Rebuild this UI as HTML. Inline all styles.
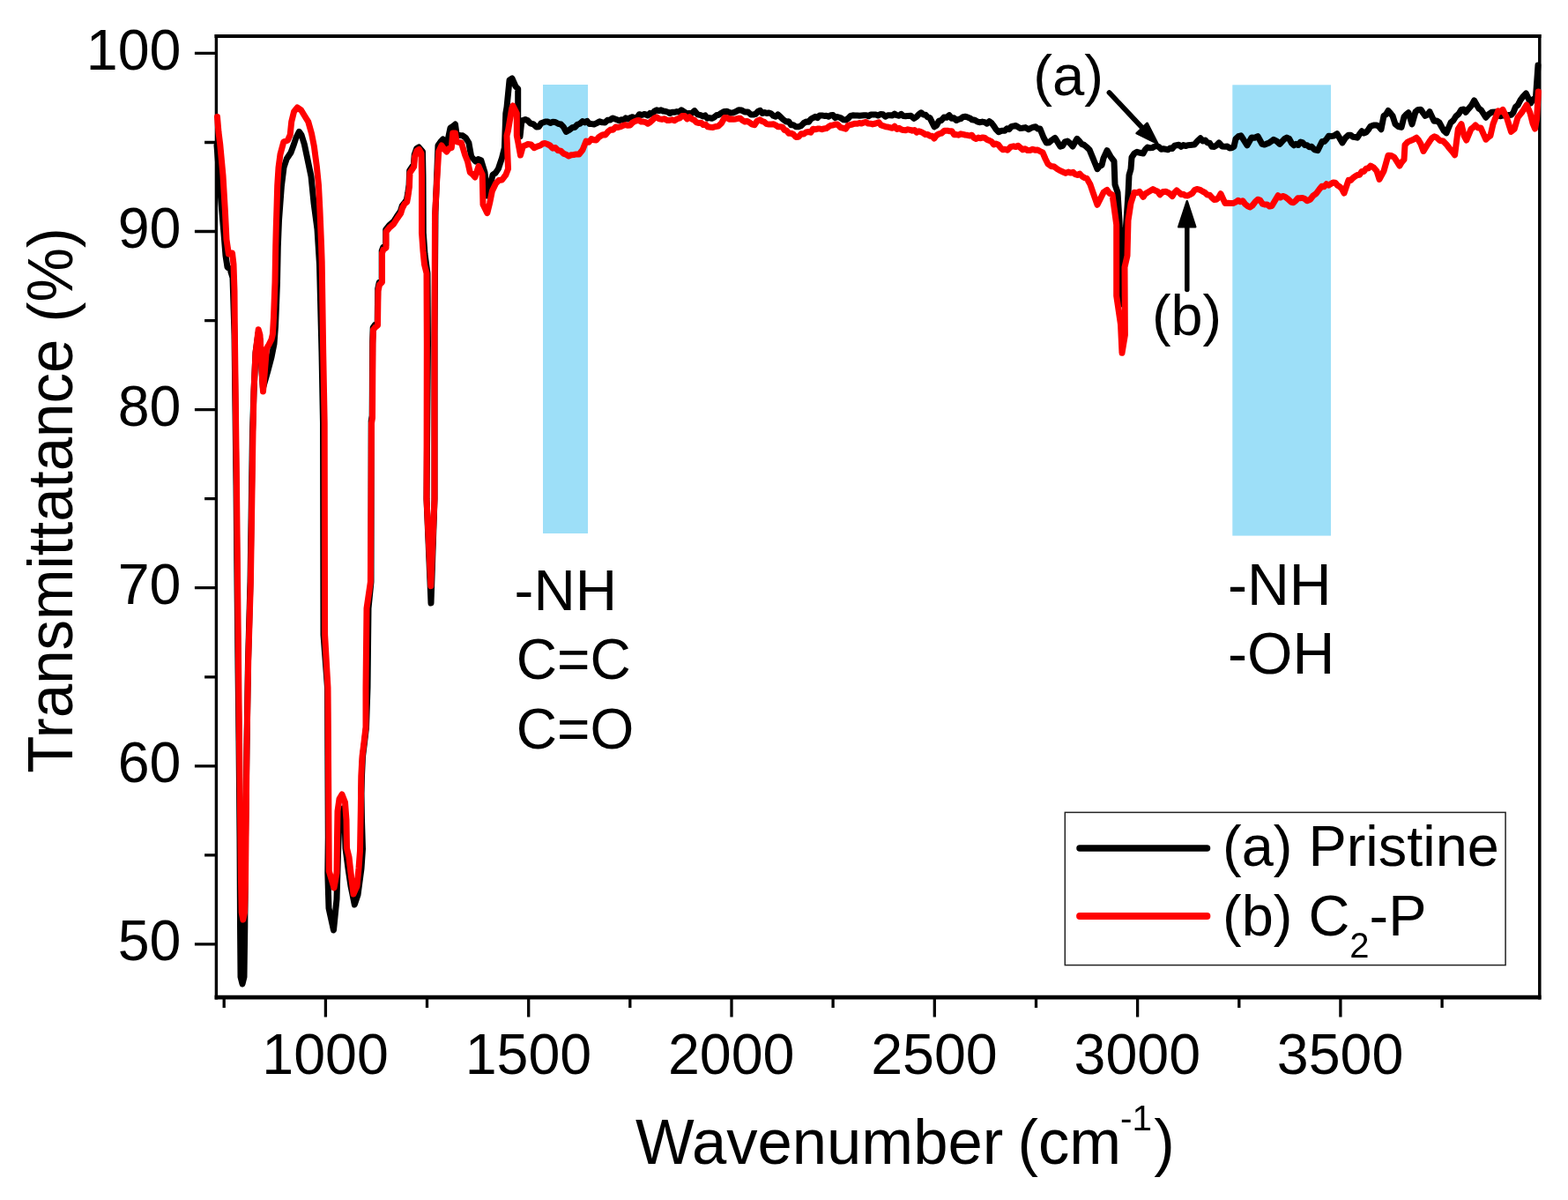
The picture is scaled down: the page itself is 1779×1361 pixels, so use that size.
<!DOCTYPE html>
<html><head><meta charset="utf-8"><style>
html,body{margin:0;padding:0;background:#fff;overflow:hidden}
svg{display:block}
text{font-family:"Liberation Sans", Arial, Helvetica, sans-serif;fill:#000}
</style></head><body>
<svg width="1779" height="1361" viewBox="0 0 1779 1361">
<rect width="1779" height="1361" fill="#fff"/>
<rect x="616" y="96" width="51" height="509" fill="#9DDFF8"/>
<rect x="1398.3" y="96.3" width="111.7" height="511.3" fill="#9DDFF8"/>
<path d="M243.5,41 H1748.5" stroke="#000" stroke-width="3.8"/>
<path d="M243.6,1131.1 H1748.5" stroke="#000" stroke-width="4.6"/>
<path d="M245.4,39.1 V1133.4" stroke="#000" stroke-width="3.4"/>
<path d="M1746.8,39.1 V1133.4" stroke="#000" stroke-width="3.5"/>
<path d="M220.9,1070.9H245.4 M220.9,868.8H245.4 M220.9,666.7H245.4 M220.9,464.6H245.4 M220.9,262.5H245.4 M220.9,60.4H245.4 M232.1,969.9H245.4 M232.1,767.8H245.4 M232.1,565.6H245.4 M232.1,363.6H245.4 M232.1,161.5H245.4 M369.4,1131.0V1153.5 M599.7,1131.0V1153.5 M830.0,1131.0V1153.5 M1060.3,1131.0V1153.5 M1290.6,1131.0V1153.5 M1520.9,1131.0V1153.5 M254.2,1131.0V1143.0 M484.5,1131.0V1143.0 M714.8,1131.0V1143.0 M945.1,1131.0V1143.0 M1175.5,1131.0V1143.0 M1405.8,1131.0V1143.0 M1636.1,1131.0V1143.0" stroke="#000" stroke-width="3.3" fill="none"/>
<polyline points="246.0,165.0 248.0,190.0 251.0,230.0 254.0,265.0 256.0,290.0 258.0,303.0 261.0,305.0 264.0,315.0 266.0,380.0 268.0,550.0 269.0,660.0 270.0,755.0 271.0,840.0 272.0,950.0 272.5,1050.0 273.0,1108.0 275.0,1116.0 277.0,1108.0 277.8,1050.0 278.5,950.0 280.0,845.0 281.5,750.0 284.0,660.0 286.5,490.0 288.0,444.0 290.0,400.0 293.0,378.0 295.0,385.0 297.0,420.0 298.4,440.0 303.8,421.0 308.0,405.0 311.0,390.0 312.5,370.0 313.5,346.0 314.5,320.0 315.3,280.0 316.5,250.0 319.4,211.0 322.0,190.0 325.3,180.0 330.0,173.0 333.5,163.5 336.0,156.0 339.4,149.4 342.0,153.0 345.3,163.5 348.8,180.0 353.0,200.0 356.0,230.0 360.0,260.0 362.5,300.0 365.0,400.0 366.5,480.0 367.0,720.0 371.5,780.0 372.3,950.0 371.8,990.0 373.0,1030.0 378.5,1055.0 382.0,1020.0 383.8,960.0 385.0,930.0 388.5,917.0 391.0,930.0 392.0,962.0 395.0,985.0 398.0,1005.0 402.3,1026.0 406.0,1015.0 410.0,985.0 411.5,963.0 410.5,930.0 410.0,900.0 410.5,880.0 411.5,858.0 413.5,842.0 415.5,825.0 417.0,780.0 418.0,690.0 421.0,660.0 421.2,477.5 422.2,471.5 422.7,387.5 423.2,371.5 425.7,368.1 428.2,366.5 428.7,327.5 430.2,320.5 433.2,317.5 433.2,284.5 434.7,280.5 437.7,278.5 437.7,260.5 441.7,255.5 446.4,251.5 450.2,245.5 454.4,239.5 456.2,233.5 458.8,230.2 461.4,226.5 462.7,219.5 464.1,209.5 464.7,193.5 469.4,186.5 470.2,175.5 472.7,168.5 475.2,166.9 479.5,172.0 480.0,200.0 480.3,264.0 482.0,288.0 485.0,310.0 485.5,390.0 484.0,566.0 489.0,684.0 493.0,566.0 493.0,380.0 494.0,240.0 495.0,216.0 497.0,165.0 499.8,161.0 502.6,158.0 507.0,164.0 511.0,145.0 513.8,143.4 516.5,141.0 518.0,152.0 521.5,153.4 524.9,153.8 528.4,156.3 531.9,162.0 534.7,177.5 539.5,183.0 542.6,180.6 545.8,181.7 550.0,195.6 553.0,222.0 555.0,215.0 559.0,198.4 562.2,196.1 565.4,191.4 569.6,178.9 572.4,167.7 573.8,128.6 575.0,121.6 578.0,91.0 581.0,89.0 585.0,98.0 587.7,100.7 587.7,132.8 590.0,155.0 591.9,137.0 596.0,135.6 598.9,136.8 601.7,139.8 605.2,140.9 608.6,144.0 611.3,143.7 614.0,139.8 618.8,138.0 621.6,138.0 624.4,139.5 627.2,138.3 630.0,138.5 633.2,140.3 636.4,141.0 639.3,143.9 642.3,149.4 645.8,147.5 649.3,144.7 652.2,144.2 655.1,141.2 658.1,140.2 661.0,137.6 663.6,138.9 666.2,137.4 668.8,140.6 671.4,140.6 674.0,141.0 677.1,139.6 680.3,137.8 683.4,138.8 686.4,138.9 689.3,136.3 692.2,136.0 695.2,134.0 700.0,135.8 702.5,136.8 705.0,135.8 707.5,136.2 710.0,133.9 712.5,135.0 715.0,133.5 717.6,132.7 720.2,133.9 722.8,133.1 725.4,129.7 728.0,130.5 731.5,129.4 735.0,131.0 737.5,128.4 740.0,129.6 742.5,126.1 745.0,124.8 747.5,125.6 750.0,124.8 752.5,126.0 755.0,126.3 757.5,127.0 760.0,128.5 762.6,127.2 765.2,127.3 767.8,126.6 770.4,127.0 773.0,124.8 776.0,126.7 779.0,128.8 782.0,128.5 785.0,128.3 788.0,125.6 791.5,129.9 795.0,130.7 797.5,132.0 800.0,130.9 802.5,134.2 805.0,133.6 807.6,134.3 810.2,133.0 812.8,130.8 815.4,130.3 818.0,128.5 821.5,126.4 825.0,126.3 828.5,128.2 832.0,127.8 835.0,126.6 838.0,124.8 841.5,125.1 845.0,127.0 848.5,126.9 852.0,130.0 854.7,130.0 857.3,129.3 860.0,126.3 862.5,125.4 865.0,128.5 867.5,127.6 870.0,128.5 872.5,127.9 875.0,129.0 877.5,131.3 880.0,132.3 882.5,129.9 885.0,132.2 888.5,135.5 892.0,138.0 894.8,137.8 897.5,141.7 900.2,141.7 903.0,143.8 906.0,143.7 909.0,142.6 912.0,139.5 915.0,138.0 917.5,138.3 920.0,135.0 922.5,133.7 925.0,132.3 927.5,133.6 930.0,130.9 932.5,130.9 935.0,131.4 937.5,131.3 940.0,132.2 942.5,130.7 945.0,130.5 947.5,133.6 950.0,132.5 953.5,133.5 957.0,135.8 959.7,136.0 962.3,134.3 965.0,131.4 967.6,130.8 970.1,130.9 972.7,131.0 975.2,131.3 977.8,131.0 980.3,130.7 982.9,130.7 985.4,131.7 988.0,130.0 990.8,130.1 993.5,129.9 996.2,131.1 999.0,129.4 1001.8,129.7 1004.5,132.2 1007.2,130.7 1010.0,130.7 1012.5,131.0 1015.0,129.1 1017.5,130.7 1020.0,131.3 1022.5,129.4 1025.0,131.6 1027.5,131.8 1030.0,131.4 1033.5,131.3 1037.0,134.3 1039.7,132.6 1042.3,129.8 1045.0,127.8 1047.5,129.9 1050.0,130.2 1052.5,132.9 1055.0,133.6 1060.0,143.8 1062.7,142.2 1065.3,137.2 1068.0,136.5 1071.0,133.0 1074.0,133.3 1077.0,130.7 1079.7,134.3 1082.3,133.7 1085.0,136.5 1087.5,135.3 1090.0,134.7 1092.5,132.6 1095.0,132.2 1097.7,132.9 1100.3,133.9 1103.0,135.8 1106.0,136.3 1109.0,138.1 1112.0,138.7 1114.6,138.1 1117.2,138.6 1119.8,140.2 1122.4,137.6 1125.0,139.5 1127.7,143.1 1130.3,147.1 1133.0,149.7 1136.5,148.3 1140.0,148.2 1142.5,145.9 1145.0,146.7 1147.5,143.4 1150.0,143.1 1152.5,142.5 1155.0,144.0 1157.5,145.5 1160.0,145.3 1163.5,144.6 1167.0,146.8 1169.7,145.2 1172.3,144.2 1175.0,143.8 1177.5,146.1 1180.0,146.0 1184.0,156.0 1187.3,162.0 1190.0,161.7 1193.5,158.8 1197.0,156.4 1203.0,166.1 1205.7,165.3 1208.3,160.8 1211.0,160.0 1214.0,162.5 1217.0,166.1 1222.0,157.3 1224.7,160.2 1227.3,163.4 1230.0,164.4 1233.0,166.9 1236.0,169.7 1240.0,179.4 1245.0,191.7 1247.5,188.5 1250.0,187.3 1252.0,179.4 1256.0,170.6 1260.0,177.6 1264.0,182.9 1265.0,209.3 1268.0,218.2 1270.0,250.0 1272.0,300.0 1272.0,345.0 1275.0,290.0 1278.0,250.0 1280.0,220.0 1281.0,198.8 1283.0,191.7 1284.0,178.5 1287.0,174.0 1290.0,172.3 1293.5,173.3 1297.0,174.0 1299.5,169.4 1302.0,167.0 1304.7,167.8 1307.3,167.6 1310.0,166.1 1312.5,165.6 1315.0,166.7 1317.5,169.2 1320.0,168.8 1322.5,169.2 1325.0,169.8 1327.5,168.0 1330.0,168.5 1332.5,165.3 1335.0,164.8 1337.5,164.3 1340.0,166.3 1342.5,164.6 1345.0,165.6 1347.5,164.7 1350.0,164.6 1352.5,164.2 1355.0,164.1 1358.5,160.1 1362.0,156.8 1364.7,160.0 1367.3,159.0 1370.0,161.9 1372.5,162.3 1375.0,166.3 1377.7,166.4 1380.3,164.7 1383.0,161.9 1386.5,165.9 1390.0,166.3 1392.5,166.1 1395.0,167.9 1397.5,167.8 1400.0,166.3 1402.0,157.5 1405.0,154.7 1408.0,153.9 1415.0,164.8 1420.0,156.1 1423.5,156.2 1427.0,154.6 1432.0,163.4 1434.7,164.1 1437.3,163.0 1440.0,161.9 1442.5,160.2 1445.0,158.3 1448.5,160.1 1452.0,163.4 1454.7,160.4 1457.3,157.6 1460.0,156.1 1462.7,157.4 1465.3,162.2 1468.0,164.8 1470.5,163.3 1473.0,164.5 1475.5,161.0 1478.0,161.9 1480.5,164.5 1483.0,164.8 1485.5,166.7 1488.0,166.3 1491.5,169.9 1495.0,170.7 1500.0,160.5 1502.5,160.5 1505.0,157.8 1507.5,154.3 1510.0,154.6 1513.5,154.0 1517.0,151.7 1523.0,161.9 1526.5,156.4 1530.0,153.2 1532.5,153.2 1535.0,155.2 1537.5,155.5 1540.0,156.1 1542.5,152.1 1545.0,148.8 1547.5,151.0 1550.0,150.0 1552.5,147.0 1555.0,143.2 1558.5,142.0 1562.0,142.0 1564.5,143.5 1567.0,146.7 1570.0,131.4 1572.5,129.8 1575.0,125.5 1577.5,128.4 1580.0,131.4 1583.0,140.8 1586.5,143.6 1590.0,144.4 1593.0,132.6 1595.5,129.7 1598.0,127.8 1602.0,140.8 1606.0,126.7 1609.0,124.4 1612.0,124.3 1614.5,128.0 1617.0,131.4 1619.5,130.2 1622.0,126.7 1627.0,137.3 1630.0,137.0 1633.0,139.0 1635.7,144.0 1638.3,148.4 1641.0,150.8 1646.0,139.0 1649.0,136.5 1652.0,131.7 1655.0,129.2 1658.0,124.4 1660.5,124.1 1663.0,127.3 1666.2,123.3 1669.4,119.7 1672.6,114.0 1677.8,123.0 1680.5,124.8 1683.1,129.0 1685.8,133.2 1689.2,129.4 1692.5,127.3 1697.0,127.0 1699.5,129.4 1702.0,131.7 1705.0,131.1 1708.0,131.0 1711.2,130.6 1714.5,130.3 1717.0,127.6 1719.5,121.2 1722.0,119.3 1725.1,113.3 1728.3,109.1 1731.4,106.0 1736.6,117.0 1739.5,112.7 1742.4,111.2 1745.0,74.0" fill="none" stroke="#000" stroke-width="7" stroke-linejoin="round" stroke-linecap="round"/>
<polyline points="246.5,132.6 248.0,150.0 249.7,163.4 253.0,199.0 255.4,239.4 257.0,271.7 259.4,288.0 263.5,287.0 265.0,300.0 266.0,330.0 266.4,380.0 268.5,550.0 269.6,660.0 270.6,755.0 271.5,840.0 272.5,920.0 273.5,1000.0 274.2,1035.0 275.8,1043.0 277.5,1035.0 278.5,1000.0 279.3,920.0 280.0,845.0 281.7,750.0 284.4,660.0 287.0,490.0 288.0,444.0 290.0,400.0 293.2,373.7 295.0,380.0 297.0,420.0 298.5,444.0 300.5,420.0 302.5,395.0 305.0,391.0 308.0,385.0 309.4,379.0 310.5,360.0 311.0,346.0 312.0,320.0 312.7,280.0 313.3,257.0 314.0,235.0 314.7,210.6 316.0,190.0 318.0,175.0 321.8,161.0 326.5,159.0 329.2,152.9 330.7,138.2 333.6,126.4 337.3,122.0 341.7,125.0 346.1,132.3 349.8,138.2 353.5,151.4 356.4,166.1 359.3,188.1 361.5,210.2 363.0,239.6 364.5,276.3 365.2,296.9 366.7,400.0 368.2,480.0 368.6,720.0 372.0,780.0 373.3,988.0 379.0,1007.0 382.0,990.0 382.5,950.0 383.0,920.0 385.0,906.0 388.0,901.0 391.5,910.0 393.0,930.0 393.5,962.0 396.0,972.0 398.0,990.0 401.0,1014.0 405.0,1005.0 407.0,985.0 408.5,965.0 409.3,920.0 409.8,880.0 411.0,858.0 413.0,842.0 415.0,825.0 415.0,780.0 416.0,690.0 420.4,660.0 421.5,480.0 422.5,474.0 423.0,390.0 423.5,374.0 426.0,370.9 428.5,369.0 429.0,330.0 430.5,323.0 433.5,320.0 433.5,287.0 435.0,283.0 438.0,281.0 438.0,263.0 442.0,258.0 446.7,254.0 450.5,248.0 454.7,242.0 456.5,236.0 459.1,231.2 461.7,229.0 463.0,222.0 464.4,212.0 465.0,196.0 469.7,189.0 470.5,178.0 473.0,171.0 475.5,169.4 478.0,174.0 478.5,200.0 478.5,264.0 480.0,285.0 481.5,300.0 484.0,310.0 484.3,390.0 484.0,566.0 488.8,664.7 493.0,566.0 493.0,380.0 493.5,244.5 495.0,216.6 497.7,172.0 501.0,165.0 503.9,169.0 506.8,172.0 509.5,168.3 512.3,167.7 513.7,151.0 516.5,151.0 518.0,160.7 520.8,161.5 523.5,162.0 527.7,176.0 530.5,183.0 533.3,195.6 536.1,197.8 538.9,201.0 543.0,188.6 547.2,198.0 548.0,232.0 552.8,241.7 555.6,230.5 558.4,216.6 562.6,208.0 566.1,204.4 569.6,204.0 573.8,198.4 576.5,191.4 575.0,153.8 576.5,148.0 580.7,123.0 582.0,120.0 586.3,128.6 586.3,153.8 587.7,160.7 590.5,176.0 593.3,166.0 596.1,164.8 598.9,163.5 602.4,163.9 605.9,167.7 609.5,166.1 613.0,165.0 615.7,163.0 618.3,162.5 621.0,163.5 624.0,165.0 627.0,168.2 630.0,167.4 633.0,170.5 636.1,171.1 639.2,174.1 642.3,175.2 645.2,176.9 648.1,175.7 651.0,175.5 654.0,174.9 657.0,175.0 661.0,170.0 665.0,160.0 668.0,161.3 671.0,157.6 674.0,158.8 676.6,158.9 679.2,155.7 681.8,154.0 684.4,152.7 687.0,152.9 689.9,149.3 692.8,147.0 695.6,147.2 698.5,144.0 701.3,144.5 704.2,143.7 707.0,142.3 709.7,141.7 712.3,142.3 715.0,142.0 717.5,139.1 720.0,137.7 722.5,136.8 725.0,136.5 727.5,138.1 730.0,138.1 732.5,138.6 735.0,140.2 737.5,138.7 740.0,136.4 742.5,134.0 745.0,132.9 748.0,134.9 751.0,135.4 754.0,134.7 757.0,136.5 759.8,136.4 762.5,135.8 765.2,136.7 768.0,135.0 771.0,134.0 774.0,131.4 776.8,131.5 779.5,134.9 782.2,132.7 785.0,135.0 787.7,136.2 790.3,138.9 793.0,139.5 795.5,139.3 798.0,141.6 800.5,141.1 803.0,143.8 806.0,144.2 809.0,144.4 812.0,143.5 815.0,143.1 818.5,139.7 822.0,133.6 824.7,133.4 827.3,135.2 830.0,135.0 832.5,135.2 835.0,134.9 837.5,134.3 840.0,134.3 842.5,136.6 845.0,138.1 847.5,137.5 850.0,138.7 853.0,140.8 856.0,141.7 859.0,137.2 862.0,135.8 864.6,137.5 867.2,138.4 869.8,140.6 872.4,141.0 875.0,140.9 877.5,140.8 880.0,141.9 882.5,143.7 885.0,143.8 887.5,143.9 890.0,147.4 892.5,148.2 895.0,151.2 897.7,151.3 900.3,152.5 903.0,155.5 906.0,155.3 909.0,151.8 912.0,151.9 914.6,150.0 917.2,149.5 919.8,150.2 922.4,146.3 925.0,146.8 927.5,146.1 930.0,146.0 932.5,146.7 935.0,145.9 937.5,145.6 940.0,143.8 942.5,142.3 945.0,142.0 947.5,141.1 950.0,140.9 953.5,144.5 957.0,145.3 959.6,146.1 962.1,142.4 964.7,141.6 967.3,141.0 969.9,140.2 972.4,140.3 975.0,139.5 977.5,140.1 980.0,139.1 982.5,138.4 985.0,140.1 987.5,140.2 990.0,140.9 993.5,140.0 997.0,138.7 999.7,142.0 1002.3,142.8 1005.0,143.8 1007.5,144.1 1010.0,144.7 1012.5,145.2 1015.0,143.2 1017.5,146.5 1020.0,145.3 1022.5,146.8 1025.0,147.6 1027.5,147.8 1030.0,146.8 1032.5,147.4 1035.0,148.2 1037.5,147.5 1040.0,150.2 1042.5,148.8 1045.0,149.6 1047.5,150.8 1050.0,152.6 1052.5,152.5 1055.0,154.2 1057.5,154.3 1060.0,157.0 1062.7,153.3 1065.3,151.9 1068.0,151.2 1071.5,148.3 1075.0,148.2 1077.5,148.8 1080.0,148.7 1082.5,152.8 1085.0,152.6 1087.5,153.2 1090.0,151.8 1092.5,152.4 1095.0,153.0 1097.5,153.3 1100.0,154.0 1102.5,153.2 1105.0,156.4 1107.5,157.5 1110.0,156.1 1112.5,156.8 1115.0,155.9 1117.5,156.5 1120.0,158.5 1122.5,159.4 1125.0,160.6 1127.5,164.0 1130.0,163.1 1132.5,164.0 1135.0,167.2 1137.7,169.8 1140.3,169.3 1143.0,170.2 1146.5,166.7 1150.0,165.8 1152.6,166.5 1155.2,165.3 1157.8,167.6 1160.4,169.8 1163.0,168.7 1165.8,170.5 1168.7,170.4 1171.5,169.3 1174.3,170.2 1177.2,169.9 1180.0,171.6 1183.0,173.0 1186.0,180.0 1189.0,186.0 1192.5,188.5 1196.0,189.0 1200.0,192.0 1203.0,193.6 1206.0,195.0 1209.0,196.4 1212.0,195.1 1215.0,196.1 1217.5,195.3 1220.0,197.7 1222.5,198.5 1225.0,197.0 1227.7,200.0 1230.3,201.6 1233.0,202.3 1237.0,209.3 1240.0,218.2 1245.0,232.3 1249.0,224.3 1252.0,218.2 1256.0,215.5 1259.0,219.3 1262.0,220.8 1264.0,235.0 1266.7,254.7 1266.7,335.6 1271.5,368.0 1273.0,400.3 1276.4,380.0 1276.0,303.0 1279.0,290.0 1280.0,250.0 1283.0,230.5 1287.0,218.2 1290.0,218.6 1293.0,217.3 1297.0,223.4 1299.5,219.8 1302.0,218.2 1305.0,216.5 1308.0,214.6 1310.7,216.1 1313.3,217.0 1316.0,220.8 1319.5,217.4 1323.0,217.3 1326.5,219.2 1330.0,222.6 1332.5,218.4 1335.0,216.0 1337.5,218.1 1340.0,220.5 1342.5,220.2 1345.0,221.8 1347.6,221.9 1350.2,220.6 1352.8,219.1 1355.4,215.5 1358.0,214.5 1361.0,215.1 1364.0,216.8 1367.0,218.4 1370.0,221.1 1372.5,221.3 1375.0,224.1 1377.5,226.4 1380.0,226.2 1382.5,224.2 1385.0,219.7 1390.0,230.6 1393.0,230.2 1396.0,230.5 1399.0,230.6 1402.0,229.2 1404.7,227.2 1407.3,228.8 1410.0,227.7 1412.7,231.6 1415.3,233.6 1418.0,235.0 1421.0,233.0 1424.0,229.1 1427.0,226.2 1429.7,227.0 1432.3,231.1 1435.0,232.0 1437.7,231.9 1440.3,234.1 1443.0,233.5 1450.0,221.8 1452.7,224.0 1455.3,222.4 1458.0,223.3 1461.5,225.9 1465.0,229.2 1467.5,229.7 1470.0,227.8 1472.5,224.7 1475.0,224.8 1477.7,224.4 1480.3,225.5 1483.0,227.7 1486.5,226.2 1490.0,221.8 1493.5,219.3 1497.0,214.5 1499.7,211.3 1502.3,211.8 1505.0,208.7 1507.5,210.1 1510.0,208.5 1512.5,207.0 1515.0,207.2 1517.5,210.3 1520.0,211.8 1522.5,214.3 1525.0,219.0 1530.0,204.3 1532.5,204.5 1535.0,201.9 1537.5,200.0 1540.0,198.5 1542.5,198.2 1545.0,194.6 1547.5,194.4 1550.0,191.2 1552.5,190.8 1555.0,188.0 1558.5,190.0 1562.0,194.0 1565.0,203.4 1570.0,194.0 1575.0,176.2 1578.5,176.5 1582.0,178.6 1588.0,188.0 1590.5,183.8 1593.0,181.0 1594.0,164.4 1597.0,161.1 1600.0,159.7 1603.5,158.3 1607.0,156.2 1609.5,158.9 1612.0,163.3 1615.0,171.5 1620.0,163.3 1622.5,159.5 1625.0,156.2 1627.5,154.8 1630.0,156.0 1633.7,159.5 1637.3,160.0 1641.0,163.7 1644.7,168.5 1647.7,172.0 1650.6,175.8 1654.3,146.4 1658.0,140.6 1661.0,153.8 1663.8,159.0 1669.0,146.4 1671.5,144.5 1674.0,142.0 1677.0,145.0 1680.0,145.0 1685.8,158.2 1688.4,155.7 1691.0,153.8 1694.0,140.6 1699.8,125.9 1702.4,126.7 1705.0,124.4 1709.4,133.2 1714.5,149.4 1718.2,146.4 1722.0,133.2 1724.5,130.1 1727.0,127.0 1732.0,119.0 1736.0,128.0 1739.0,140.0 1741.5,146.0 1743.5,135.0 1745.4,104.0" fill="none" stroke="#f00" stroke-width="7" stroke-linejoin="round" stroke-linecap="round"/>
<text x="205.4" y="1088.6" text-anchor="end" font-size="64.5">50</text>
<text x="205.4" y="886.6" text-anchor="end" font-size="64.5">60</text>
<text x="205.4" y="684.6" text-anchor="end" font-size="64.5">70</text>
<text x="205.4" y="482.6" text-anchor="end" font-size="64.5">80</text>
<text x="205.4" y="280.6" text-anchor="end" font-size="64.5">90</text>
<text x="205.4" y="78.6" text-anchor="end" font-size="64.5">100</text>
<text x="369.1" y="1218.2" text-anchor="middle" font-size="64.5">1000</text>
<text x="599.4" y="1218.2" text-anchor="middle" font-size="64.5">1500</text>
<text x="829.7" y="1218.2" text-anchor="middle" font-size="64.5">2000</text>
<text x="1060.0" y="1218.2" text-anchor="middle" font-size="64.5">2500</text>
<text x="1290.3" y="1218.2" text-anchor="middle" font-size="64.5">3000</text>
<text x="1520.6" y="1218.2" text-anchor="middle" font-size="64.5">3500</text>
<text transform="translate(721.0,1319.5) scale(1,1.02)" font-size="70.6">Wavenumber <tspan x="433.4">(cm</tspan><tspan x="550" font-size="40.5" dy="-37.2">-1</tspan><tspan x="588.3" dy="37.2">)</tspan></text>
<text transform="translate(82.2,876.8) rotate(-90) scale(1,1.06)" font-size="69.0">Transmittatance (%)</text>
<text transform="translate(1172.2,108.3)" font-size="65.3">(a)</text>
<text transform="translate(1307.0,380.3)" font-size="64.7">(b)</text>
<text transform="translate(583.6,691.8)" font-size="65.5">-NH</text>
<text transform="translate(585.8,770.1)" font-size="64">C=C</text>
<text transform="translate(585.8,848.9)" font-size="64">C=O</text>
<text transform="translate(1393.0,686.0)" font-size="66.2">-NH</text>
<text transform="translate(1393.0,763.6)" font-size="66.2">-OH</text>
<path d="M1258.5,105 L1297,146" stroke="#000" stroke-width="5.8" stroke-linecap="round" fill="none"/>
<path d="M1313.3,162.8 L1301.6,139.8 L1289.6,151.2 Z" fill="#000" stroke="#000" stroke-width="2.6" stroke-linejoin="round"/>
<path d="M1346.8,328.5 V255" stroke="#000" stroke-width="5.5" stroke-linecap="round" fill="none"/>
<path d="M1346.8,228.3 L1337.3,257.3 L1356.2,257.3 Z" fill="#000" stroke="#000" stroke-width="2.6" stroke-linejoin="round"/>
<rect x="1208.3" y="921.4" width="499.8" height="173.2" fill="#fff" stroke="#222" stroke-width="1.5"/>
<path d="M1225,962 H1369.5" stroke="#000" stroke-width="7.5" stroke-linecap="round"/>
<path d="M1225,1039 H1369.5" stroke="#f00" stroke-width="7.8" stroke-linecap="round"/>
<text transform="translate(1387.1,982.4)" font-size="64.9">(a) Pristine</text>
<text x="1387.1" y="1061.3" font-size="64.9">(b) C<tspan font-size="40" dy="25">2</tspan><tspan dy="-25">-P</tspan></text>
</svg>
</body></html>
